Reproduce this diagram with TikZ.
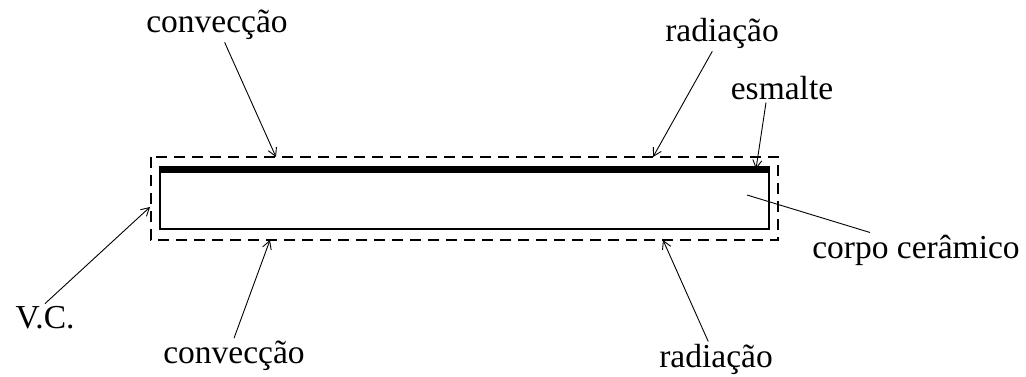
\documentclass[tikz,border=0pt]{standalone}
\usepackage{fontspec}
\setmainfont{Liberation Serif}
\usetikzlibrary{arrows.meta, positioning}

\tikzset{
  lbl/.style={font=\fontsize{33.5}{40}\selectfont, anchor=base, inner sep=2pt},
  arr/.style={-{Straight Barb[length=8pt,width=9pt]}, line width=0.9pt},
  vcbox/.style={dash pattern=on 11pt off 7pt, line width=1.4pt},
}

\begin{document}
\begin{tikzpicture}[x=1pt, y=-1pt]
    \useasboundingbox (0,0) rectangle (1026,377);

    % Ceramic body with glaze layer
    \draw[line width=1.2pt] (160,167) rectangle (769,229);
    \fill (160,166) rectangle (769,173);

    % Control volume
    \draw[vcbox] (151,157) rectangle (778,240);

    % Labels
    \node[lbl] (cvtop) at (217,33) {convecção};
    \node[lbl] (rdtop) at (722,42) {radiação};
    \node[lbl] (esm) at (782,100) {esmalte};
    \node[lbl] (cc) at (916,258) {corpo cerâmico};
    \node[lbl] (vc) at (45,328) {V.C.};
    \node[lbl] (cvbot) at (234,363) {convecção};
    \node[lbl] (rdbot) at (716,367) {radiação};

    % Arrow ends on the box
    \coordinate (cvtopTip) at (276,157);
    \coordinate (rdtopTip) at (653,157);
    \coordinate (esmTip) at (756,169);
    \coordinate (ccEnd) at (747,195);
    \coordinate (vcTip) at (150,207);
    \coordinate (cvbotTip) at (270,240);
    \coordinate (rdbotTip) at (663,240);

    % Arrows
    \draw[arr] (cvtop) -- (cvtopTip);
    \draw[arr] (rdtop) -- (rdtopTip);
    \draw[arr] ([xshift=-16pt]esm.south) -- (esmTip);
    \draw[line width=0.9pt] ([xshift=-46pt]cc.north) -- (ccEnd);
    \draw[arr] (vc.north) -- (vcTip);
    \draw[arr] (cvbot.north) -- (cvbotTip);
    \draw[arr] (rdbot) -- (rdbotTip);
\end{tikzpicture}
\end{document}
